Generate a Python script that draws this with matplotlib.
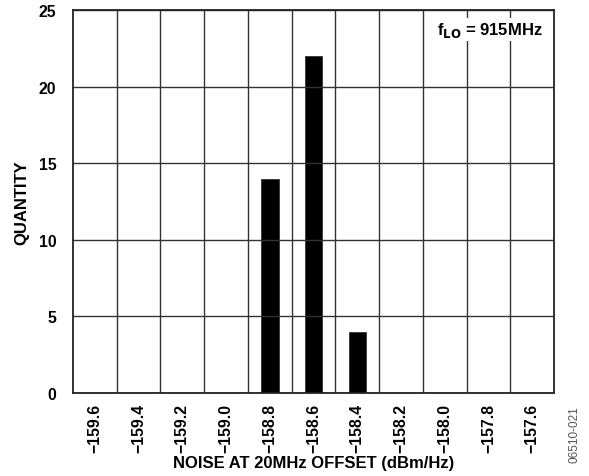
import numpy as np
import matplotlib
matplotlib.use('Agg')
from matplotlib import pyplot as plt
from matplotlib.ticker import FixedLocator

plt.rcParams['font.family'] = ['Liberation Sans', 'DejaVu Sans']
plt.rcParams['font.weight'] = 'bold'

# Histogram of noise at 20MHz offset
bins = ['−159.6', '−159.4', '−159.2', '−159.0', '−158.8', '−158.6',
        '−158.4', '−158.2', '−158.0', '−157.8', '−157.6']
quantity = [0, 0, 0, 0, 14, 22, 4, 0, 0, 0, 0]
yticks = [0, 5, 10, 15, 20, 25]

fig = plt.figure(figsize=(5.89, 4.77), dpi=100)
ax = fig.add_axes([0.124, 0.174, 0.8166, 0.803])

x = np.arange(len(bins))
ax.bar(x, quantity, width=0.4, color='black', edgecolor='#333333', linewidth=0.6, zorder=1)

ax.set_xlim(-0.5, len(bins) - 0.5)
ax.set_ylim(0, 25)
ax.set_xticks(x)
ax.set_xticklabels(bins, rotation=90, fontsize=11.3, fontweight='bold')
ax.xaxis.set_minor_locator(FixedLocator(x[:-1] + 0.5))
ax.set_yticks(yticks)
ax.set_yticklabels([str(v) for v in yticks], fontsize=11.3, fontweight='bold')
ax.tick_params(axis='both', which='both', length=0)
ax.tick_params(axis='x', pad=7)
ax.tick_params(axis='y', pad=12)

ax.grid(True, which='minor', axis='x', color='#333333', linewidth=1.0, zorder=2)
ax.grid(True, which='major', axis='y', color='#333333', linewidth=1.0, zorder=2)
ax.set_axisbelow(False)
for s in ax.spines.values():
    s.set_linewidth(1.3)
    s.set_color('#222222')
    s.set_zorder(3)

ax.set_xlabel('NOISE AT 20MHz OFFSET (dBm/Hz)', fontsize=12, fontweight='bold', labelpad=2)
ax.set_ylabel('QUANTITY', fontsize=12, fontweight='bold', labelpad=7)

ax.text(0.976, 0.95, r'f$_{\mathbf{LO}}$ = 915MHz', transform=ax.transAxes,
        ha='right', va='center', fontsize=12, fontweight='bold', zorder=5,
        bbox=dict(facecolor='white', edgecolor='none', pad=1.5))

fig.text(0.985, 0.03, '06510-021', rotation=90, fontsize=8.5, color='#555555',
         ha='right', va='bottom', fontweight='normal')

plt.savefig('out.png', dpi=100)
